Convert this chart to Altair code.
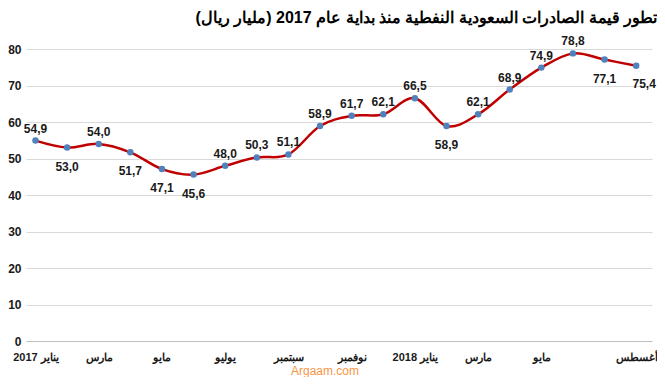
import altair as alt
import pandas as pd

# ---- data ----
months = ["يناير 2017", "فبراير", "مارس", "أبريل", "مايو", "يونيو", "يوليو", "أغسطس",
          "سبتمبر", "أكتوبر", "نوفمبر", "ديسمبر", "يناير 2018", "فبراير", "مارس",
          "أبريل", "مايو", "يونيو", "يوليو", "أغسطس"]
values = [54.9, 53.0, 54.0, 51.7, 47.1, 45.6, 48.0, 50.3, 51.1, 58.9,
          61.7, 62.1, 66.5, 58.9, 62.1, 68.9, 74.9, 78.8, 77.1, 75.4]
label_side = ["above", "below", "above", "below", "below", "below", "above", "above",
              "above", "above", "above", "above", "above", "below", "above", "above",
              "above", "above", "below", "right"]
shown_ticks = [0, 2, 4, 6, 8, 10, 12, 14, 16, 19]
y_ticks = [0, 10, 20, 30, 40, 50, 60, 70, 80]
title_text = "تطور قيمة الصادرات السعودية النفطية منذ بداية عام 2017  (مليار ريال)\u200f"
watermark = "Argaam.com"

df = pd.DataFrame({
    "i": list(range(len(values))),
    "month": months,
    "value": values,
    "label": [f"{v:.1f}".replace(".", ",") for v in values],
    "side": label_side,
})

FONT = "Liberation Sans"
W, H = 626, 292

label_expr = "[" + ",".join("'" + m + "\u200f'" for m in months) + "][datum.value]"

x = alt.X("i:Q",
          scale=alt.Scale(domain=[-0.3, 19.5], nice=False, zero=False),
          axis=alt.Axis(values=shown_ticks, labelExpr=label_expr, title=None,
                        grid=False, ticks=False, domain=True, domainColor="#bfbfbf",
                        labelFont=FONT, labelFontSize=11, labelFontWeight="bold",
                        labelColor="#1a1a1a", labelPadding=10, labelAngle=0,
                        labelOverlap=False))
y = alt.Y("value:Q",
          scale=alt.Scale(domain=[0, 80], nice=False),
          axis=alt.Axis(values=y_ticks, title=None, grid=True, gridColor="#d9d9d9",
                        ticks=False, domain=False, labelFont=FONT, labelFontSize=12,
                        labelFontWeight="bold", labelColor="#1a1a1a", labelPadding=5,
                        labelOverlap=False))

base = alt.Chart(df).encode(x=x, y=y)

line = base.mark_line(interpolate="cardinal", color="#C00000", strokeWidth=2.5)
pts = base.mark_circle(size=42, color="#4F81BD", opacity=1)

txt_kw = dict(font=FONT, fontSize=12, fontWeight="bold", color="#1a1a1a", baseline="middle")
above = base.transform_filter("datum.side == 'above'").mark_text(dy=-12, **txt_kw).encode(
    text="label:N")
below = base.transform_filter("datum.side == 'below'").mark_text(dy=19, **txt_kw).encode(
    text="label:N")
right = base.transform_filter("datum.side == 'right'").mark_text(dy=18, dx=8, **txt_kw).encode(
    text="label:N")

wm = alt.Chart(pd.DataFrame({"t": [watermark]})).mark_text(
    font=FONT, fontSize=12, color="#F79646", baseline="middle").encode(
    x=alt.value(299), y=alt.value(322), text="t:N")

chart = alt.layer(line, pts, above, below, right, wm).properties(
    width=W, height=H,
    title=alt.Title(title_text, anchor="end", font=FONT, fontSize=16, fontWeight="bold",
                    color="#000000", offset=9),
    autosize=alt.AutoSizeParams(type="none"),
    padding={"left": 18, "top": 41, "right": 5, "bottom": 36},
).configure_view(stroke=None)

chart.save("out.html", embed_options={"renderer": "svg", "actions": False})
